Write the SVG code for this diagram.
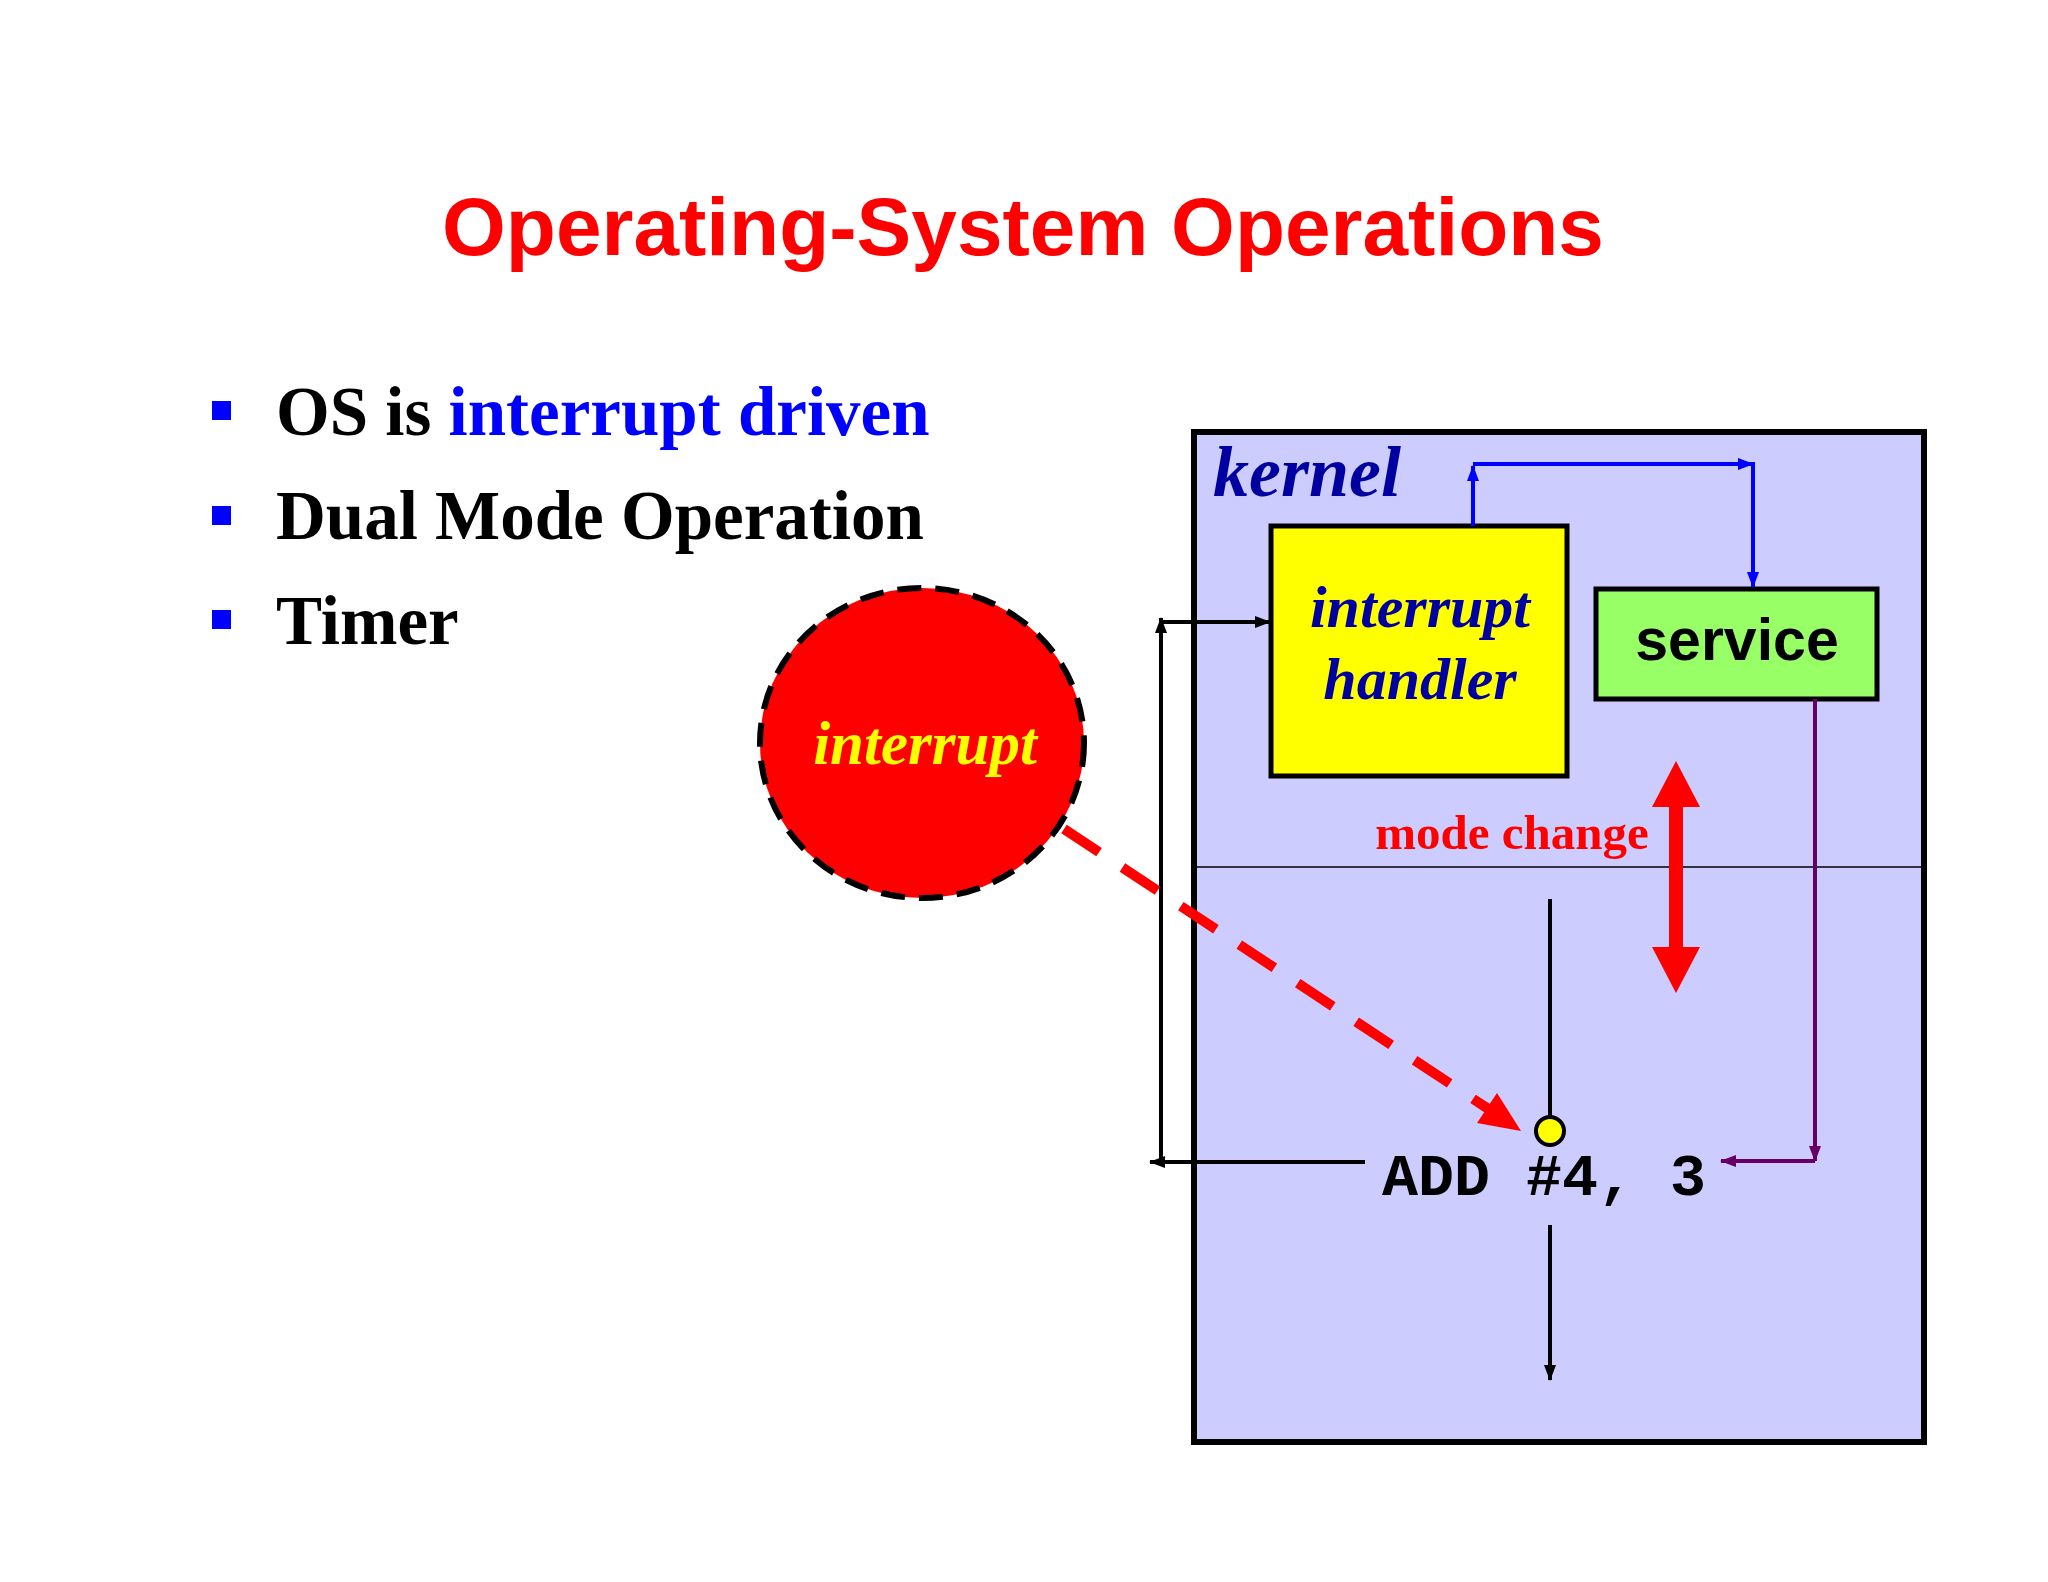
<svg xmlns="http://www.w3.org/2000/svg" width="2048" height="1582" viewBox="0 0 2048 1582">
<style>
.serif{font-family:"Liberation Serif","Times New Roman",serif;font-weight:bold}
.bul{font-size:69px;fill:#000}
.box{stroke:#000;stroke-width:5}
</style>
<defs>
<marker id="ab" markerWidth="16" markerHeight="14" refX="15" refY="7" orient="auto" markerUnits="userSpaceOnUse"><path d="M0,1 L16,7 L0,13 Z" fill="#000"/></marker>
<marker id="abl" markerWidth="16" markerHeight="14" refX="15" refY="7" orient="auto" markerUnits="userSpaceOnUse"><path d="M0,1 L16,7 L0,13 Z" fill="#0000ff"/></marker>
<marker id="ap" markerWidth="16" markerHeight="14" refX="15" refY="7" orient="auto" markerUnits="userSpaceOnUse"><path d="M0,1 L16,7 L0,13 Z" fill="#660066"/></marker>
</defs>
<rect width="2048" height="1582" fill="#fff"/>
<text x="1023" y="255" text-anchor="middle" font-family="Liberation Sans, Arial, sans-serif" font-weight="bold" font-size="82" fill="#ff0000">Operating-System Operations</text>
<g id="bullets">
<rect x="212" y="401" width="19" height="19" fill="#0000ff"/>
<rect x="212" y="506" width="19" height="19" fill="#0000ff"/>
<rect x="212" y="610" width="19" height="19" fill="#0000ff"/>
<text x="276" y="435" class="serif bul">OS is <tspan fill="#0000ff">interrupt driven</tspan></text>
<text x="276" y="539" class="serif bul">Dual Mode Operation</text>
<text x="276" y="644" class="serif bul">Timer</text>
</g>
<g id="kernel">
<rect x="1194" y="432" width="730" height="1010" fill="#ccccff" stroke="#000" stroke-width="6"/>
<line x1="1194" y1="867" x2="1924" y2="867" stroke="#000" stroke-width="1.5"/>
<text x="1213" y="496" class="serif" font-style="italic" font-size="72" fill="#0000a0">kernel</text>
</g>
<g id="handler">
<rect x="1271" y="526" width="296" height="250" fill="#ffff00" class="box"/>
<text x="1420" y="627" text-anchor="middle" class="serif" font-style="italic" font-size="60" fill="#0000a0">interrupt</text>
<text x="1420" y="699" text-anchor="middle" class="serif" font-style="italic" font-size="60" fill="#0000a0">handler</text>
</g>
<g id="service">
<rect x="1596" y="589" width="281" height="110" fill="#99ff66" class="box"/>
<text x="1737" y="660" text-anchor="middle" font-family="Liberation Sans, Arial, sans-serif" font-weight="bold" font-size="59" fill="#000">service</text>
</g>
<g id="interrupt">
<ellipse cx="922" cy="743" rx="162" ry="155" fill="#ff0000" stroke="#000" stroke-width="6" stroke-dasharray="24,14"/>
<text x="925" y="764" text-anchor="middle" class="serif" font-style="italic" font-size="61" fill="#ffff00">interrupt</text>
</g>
<g id="add">
<text x="1382" y="1195" font-family="Liberation Mono, Courier New, monospace" font-weight="bold" font-size="60" fill="#000">ADD #4, 3</text>
</g>
<g id="connectors" fill="none">
<polyline points="1473,526 1473,466" stroke="#0000ff" stroke-width="4" marker-end="url(#abl)"/>
<polyline points="1473,464 1753,464 1753,587" stroke="#0000ff" stroke-width="4" marker-end="url(#abl)"/>
<line x1="1473" y1="464" x2="1753" y2="464" stroke="#0000ff" stroke-width="4" marker-end="url(#abl)"/>
<polyline points="1815,699 1815,1161" stroke="#660066" stroke-width="4" marker-end="url(#ap)"/>
<polyline points="1815,1161 1721,1161" stroke="#660066" stroke-width="4" marker-end="url(#ap)"/>
<line x1="1365" y1="1162" x2="1150" y2="1162" stroke="#000" stroke-width="4" marker-end="url(#ab)"/>
<line x1="1161" y1="1162" x2="1161" y2="618" stroke="#000" stroke-width="4" marker-end="url(#ab)"/>
<line x1="1161" y1="622" x2="1270" y2="622" stroke="#000" stroke-width="4" marker-end="url(#ab)"/>
<line x1="1550" y1="899" x2="1550" y2="1117" stroke="#000" stroke-width="4"/>
<line x1="1550" y1="1225" x2="1550" y2="1380" stroke="#000" stroke-width="4" marker-end="url(#ab)"/>
<line x1="1064" y1="829" x2="1490" y2="1110" stroke="#ff0000" stroke-width="10" stroke-dasharray="42,28"/>
<path d="M1521,1131 L1477,1123 L1497,1093 Z" fill="#ff0000"/>
<circle cx="1550" cy="1131" r="14" fill="#ffff00" stroke="#000" stroke-width="4"/>
<path d="M1676,761 L1700,807 L1683,807 L1683,947 L1700,947 L1676,993 L1652,947 L1669,947 L1669,807 L1652,807 Z" fill="#ff0000"/>
</g>
<text x="1512" y="849" text-anchor="middle" class="serif" font-size="49" fill="#ff0000">mode change</text>
</svg>
